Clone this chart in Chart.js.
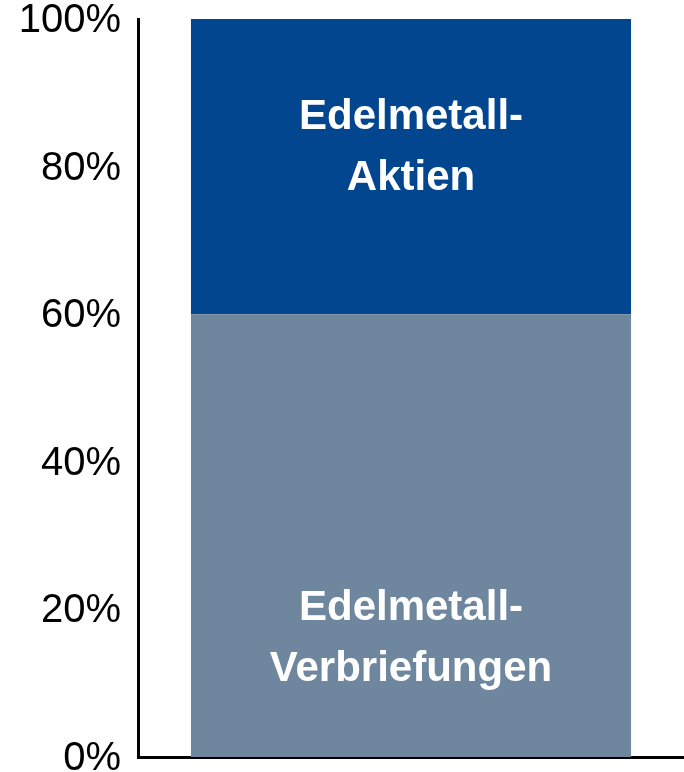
<!DOCTYPE html>
<html>
<head>
<meta charset="utf-8">
<script src="https://cdn.jsdelivr.net/npm/chart.js@4/dist/chart.umd.min.js"></script>
<style>
  html, body { margin: 0; padding: 0; background: #fff; }
  #wrap { width: 684px; height: 772px; position: relative; }
</style>
</head>
<body>
<div id="wrap"><canvas id="c" width="684" height="772"></canvas></div>
<script>
// Portfolio split shown as a single 100% stacked column
const categories = [''];
const seriesNames = [['Edelmetall-', 'Verbriefungen'], ['Edelmetall-', 'Aktien']];
const verbriefungen = [60];
const aktien = [40];
const yTickValues = [0, 20, 40, 60, 80, 100];

const FONT = "'Liberation Sans', Arial, Helvetica, sans-serif";

// Writes each segment's name (two lines, white bold) inside its column part
const segmentNames = {
  id: 'segmentNames',
  afterDatasetsDraw(chart) {
    const ctx = chart.ctx;
    const y = chart.scales.y;
    const anchors = [16, 82.5]; // vertical placement on the value axis
    ctx.save();
    ctx.fillStyle = '#ffffff';
    ctx.font = 'bold 42px ' + FONT;
    ctx.textAlign = 'center';
    ctx.textBaseline = 'middle';
    chart.data.datasets.forEach((ds, i) => {
      const bar = chart.getDatasetMeta(i).data[0];
      const lines = ds.nameLines;
      const cy = y.getPixelForValue(anchors[i]);
      const lh = 61;
      lines.forEach((t, k) => {
        ctx.fillText(t, bar.x, cy + (k - (lines.length - 1) / 2) * lh);
      });
    });
    ctx.restore();
  }
};

new Chart(document.getElementById('c'), {
  type: 'bar',
  data: {
    labels: categories,
    datasets: [
      { label: seriesNames[0].join(''), nameLines: seriesNames[0], data: verbriefungen, backgroundColor: '#6E869E' },
      { label: seriesNames[1].join(''), nameLines: seriesNames[1], data: aktien, backgroundColor: '#02468F' }
    ]
  },
  options: {
    responsive: false,
    animation: false,
    devicePixelRatio: 1,
    barPercentage: 0.806,
    categoryPercentage: 1,
    layout: { padding: { top: 19, bottom: 15, left: 0, right: 0 } },
    plugins: { legend: { display: false }, tooltip: { enabled: false } },
    scales: {
      x: {
        stacked: true,
        grid: { display: false },
        border: { display: true, color: '#000000', width: 3 },
        ticks: { display: false },
        afterFit(s) { s.height = 0; }
      },
      y: {
        stacked: true,
        min: 0,
        max: 100,
        grid: { display: false, drawTicks: false },
        border: { display: true, color: '#000000', width: 3 },
        afterBuildTicks(s) { s.ticks = yTickValues.map(v => ({ value: v })); },
        ticks: {
          color: '#000000',
          font: { family: FONT, size: 40 },
          padding: 17,
          labelOffset: 2,
          callback: v => v + '%'
        },
        afterFit(s) { s.width = 138; s.paddingTop = 0; s.paddingBottom = 0; }
      }
    }
  },
  plugins: [segmentNames]
});
</script>
</body>
</html>
